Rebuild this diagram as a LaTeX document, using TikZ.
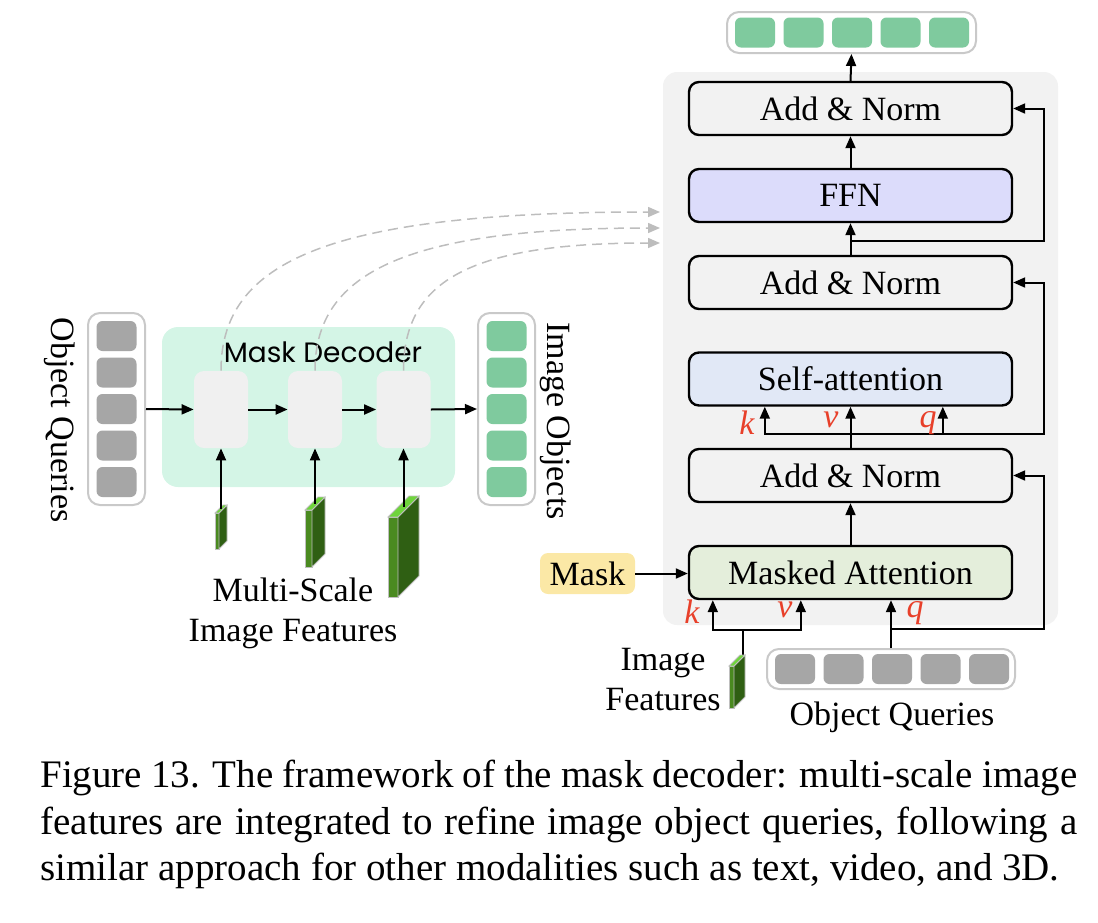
\documentclass[tikz,border=0pt]{standalone}
\usepackage{fontspec}
\setmainfont{Liberation Serif}
\newfontfamily\decoderfont{Poppins}
\usetikzlibrary{arrows.meta,positioning,calc}
\definecolor{panelgray}{HTML}{F2F2F2}
\definecolor{ffnblue}{HTML}{DCDCFB}
\definecolor{sablue}{HTML}{E1E8F6}
\definecolor{magreen}{HTML}{E4EEDB}
\definecolor{maskyellow}{HTML}{FBE8A6}
\definecolor{mintpanel}{HTML}{D4F5E6}
\definecolor{layergray}{HTML}{F0F0F0}
\definecolor{tokgreen}{HTML}{7FCA9E}
\definecolor{tokgray}{HTML}{A6A6A6}
\definecolor{barborder}{HTML}{C9C9C9}
\definecolor{dashgray}{HTML}{BDBDBD}
\definecolor{kvqred}{HTML}{E8402A}
\definecolor{slabfront}{HTML}{4A8A20}
\definecolor{slabside}{HTML}{2F5F13}
\definecolor{slabtop}{HTML}{6FD43C}
\tikzset{
  blockbox/.style={draw=black, line width=1.2pt, rounded corners=5pt, fill=panelgray,
    minimum width=161.5pt, minimum height=26.5pt, inner sep=0pt, font=\fontsize{17}{20}\selectfont},
  layerbox/.style={fill=layergray, rounded corners=5pt, minimum width=27pt, minimum height=38.5pt, inner sep=0pt},
  tokenbar/.style={draw=barborder, line width=1pt, fill=white, rounded corners=6pt, inner sep=0pt},
  token/.style={rounded corners=3pt, minimum width=20pt, minimum height=15pt, inner sep=0pt},
  arr/.style={line width=1pt, -{Triangle[length=6pt,width=5pt]}},
  dashcurve/.style={dashgray, line width=0.75pt, dash pattern=on 5pt off 3pt, -{Triangle[length=6pt,width=5pt]}},
  kvq/.style={kvqred, font=\fontsize{17}{20}\selectfont\itshape, inner sep=0pt},
  plaintext/.style={font=\fontsize{17}{20}\selectfont, inner sep=0pt, align=center},
}
\begin{document}
\begin{tikzpicture}[x=0.5pt,y=-0.5pt]
\useasboundingbox (0,0) rectangle (1098,922);

% decoder layer panel
\fill[panelgray, rounded corners=7pt] (663,72) rectangle (1058,625);
\node[blockbox] (an1) at (850.5,108.5) {Add \& Norm};
\node[blockbox, fill=ffnblue] (ffn) at (850.5,195.5) {FFN};
\node[blockbox] (an2) at (850.5,282.5) {Add \& Norm};
\node[blockbox, fill=sablue] (sa) at (850.5,379) {Self-attention};
\node[blockbox] (an3) at (850.5,475.5) {Add \& Norm};
\node[blockbox, fill=magreen] (ma) at (850.5,572.5) {Masked Attention};
\node[fill=maskyellow, rounded corners=4pt, minimum width=47.5pt, minimum height=20.5pt,
  inner sep=0pt, font=\fontsize{17}{20}\selectfont] (mask) at (587.5,573.5) {Mask};

% token bars
\node[tokenbar, minimum width=124.5pt, minimum height=20.5pt] (outbar) at (851.5,32.5) {};
\foreach \i in {0,...,4}
  \node[token, fill=tokgreen] (out\i) at (755+48.5*\i,32.5) {};
\node[tokenbar, minimum width=124pt, minimum height=20pt] (inbar) at (891,669) {};
\foreach \i in {0,...,4}
  \node[token, fill=tokgray] (inq\i) at (795+48.5*\i,669) {};
\node[plaintext] (inbarlabel) at (892,717) {Object Queries};

% main path
\draw[arr] (an1.north) -- (outbar.south);
\draw[arr] (ffn.north) -- (an1.south);
\draw[arr] (an2.north) -- (ffn.south);
\draw[arr] (an3.north) -- (sa.south);
\draw[arr] (ma.north) -- (an3.south);
\draw[arr] (mask.east) -- (mask.east -| ma.west);

% residual after self-attention
\coordinate (res1) at (850.5,241);
\draw[arr] (res1) -| ($(an1.east)+(31,0)$) -- (an1.east);
% k v q into self-attention
\coordinate (sasplit) at (850.5,434);
\draw[arr] (sasplit) -| ($(sa.south west)+(77,0)$);
\draw[arr] (sasplit) -| ($(sa.south west)+(255,0)$);
\draw[arr] (sasplit) -| ($(an2.east)+(31,0)$) -- (an2.east);
\node[kvq] (sak) at (747,423) {k};
\node[kvq] (sav) at (831,420) {v};
\node[kvq] (saq) at (928,423) {q};

% k v q into masked attention
\coordinate (imgfeat) at (743,656);
\coordinate (kvsplit) at (743,630);
\draw[line width=1pt] (imgfeat) -- (kvsplit);
\draw[arr] (kvsplit) -| ($(ma.south west)+(25,0)$);
\draw[arr] (kvsplit) -| ($(ma.south west)+(113,0)$);
\draw[arr] (inbar.north) -- (inbar.north |- ma.south);
\coordinate (qsplit) at ($(inbar.north)+(0,-19)$);
\draw[arr] (qsplit) -| ($(an3.east)+(31,0)$) -- (an3.east);
\node[kvq] (mak) at (692,612) {k};
\node[kvq] (mav) at (785,610) {v};
\node[kvq] (maq) at (915,613) {q};
\node[plaintext] (imgfeatlabel) at (663,680) {Image\\Features};

% mask decoder
\fill[mintpanel, rounded corners=8pt] (162,327) rectangle (455,487);
\node[font=\decoderfont\fontsize{14}{16}\selectfont, inner sep=0pt] (mdlabel) at (323,352) {Mask Decoder};
\node[layerbox] (l1) at (221,409.5) {};
\node[layerbox] (l2) at (315,409.5) {};
\node[layerbox] (l3) at (403.5,409.5) {};

\node[tokenbar, minimum width=28.5pt, minimum height=96pt] (qbar) at (116.5,409) {};
\foreach \i in {0,...,4}
  \node[token, fill=tokgray] (q\i) at (116.5,336+36.5*\i) {};
\node[tokenbar, minimum width=28.5pt, minimum height=96pt] (objbar) at (506.5,409) {};
\foreach \i in {0,...,4}
  \node[token, fill=tokgreen] (o\i) at (506.5,336+36.5*\i) {};
\node[plaintext, rotate=-90] (qbarlabel) at (60,420) {Object Queries};
\node[plaintext, rotate=-90] (objbarlabel) at (556,421) {Image Objects};

\draw[arr] (qbar.east) -- (l1.west);
\draw[arr] (l1.east) -- (l2.west);
\draw[arr] (l2.east) -- (l3.west);
\draw[arr] (l3.east) -- (objbar.west);

% multi-scale features
\foreach \x/\y/\w/\h/\d/\n in {215/513/4/36/8/f1, 305/510/7/57/13/f2, 388/517/10/80/21/f3, 729/666/5/42/11/f4} {
  \filldraw[slabfront, draw=gray!50, line width=0.4pt] (\x,\y) rectangle ++(\w,\h);
  \filldraw[slabside, draw=gray!50, line width=0.4pt] (\x+\w,\y) -- ++(\d,-\d) -- ++(0,\h) -- ++(-\d,\d) -- cycle;
  \filldraw[slabtop, draw=gray!50, line width=0.4pt] (\x,\y) -- ++(\d,-\d) -- ++(\w,0) -- ++(-\d,\d) -- cycle;
  \coordinate (\n) at ({\x+\w/2+\d/2},{\y-\d/2});
}
\draw[arr] (f1) -- (f1 |- l1.south);
\draw[arr] (f2) -- (f2 |- l2.south);
\draw[arr] (f3) -- (f3 |- l3.south);
\node[plaintext] (msflabel) at (293,613) {Multi-Scale\\Image Features};

% layer outputs to the decoder layer
\draw[dashcurve] (l1.north) to[out=90, in=180, out distance=55pt, in distance=165pt] (660,212);
\draw[dashcurve] (l2.north) to[out=90, in=180, out distance=50pt, in distance=125pt] (660,228);
\draw[dashcurve] (l3.north) to[out=90, in=180, out distance=45pt, in distance=95pt] (660,243);

% caption
\node[anchor=north west, inner sep=0pt, text width=518.5pt, align=justify,
  font=\fontsize{19.5}{23.25}\selectfont] (caption) at (40,760)
  {Figure 13. The framework of the mask decoder: multi-scale image features are integrated to refine image object queries, following a similar approach for other modalities such as text, video, and 3D.};
\end{tikzpicture}
\end{document}
